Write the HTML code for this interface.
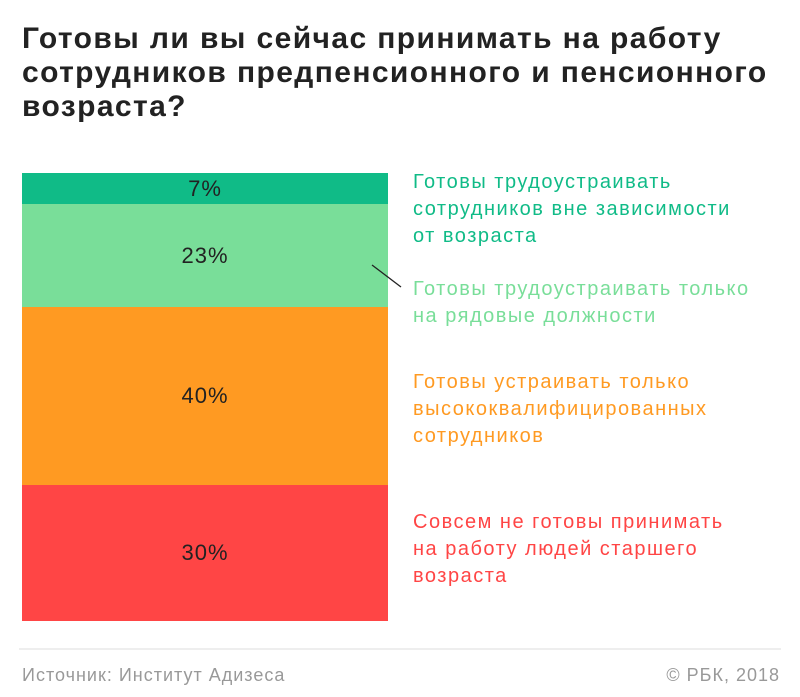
<!DOCTYPE html>
<html><head><meta charset="utf-8"><style>
body{margin:0;width:800px;height:697px;background:#fff;font-family:"Liberation Sans",sans-serif;position:relative;overflow:hidden}
.t{position:absolute;left:22px;top:22px;font-size:30px;font-weight:bold;line-height:34px;color:#222;letter-spacing:1.4px}
.seg{position:absolute;left:22px;width:366px;display:flex;align-items:center;justify-content:center;font-size:22px;letter-spacing:1px;color:#222}
.lg{position:absolute;left:413px;font-size:20px;line-height:27px;letter-spacing:1.5px;white-space:nowrap}
.f{position:absolute;top:665px;font-size:18px;color:#999;letter-spacing:1px}
</style></head><body>
<div class="t">Готовы ли вы сейчас принимать на работу<br>сотрудников предпенсионного и пенсионного<br>возраста?</div>
<div class="seg" style="top:173px;height:31px;background:#10bb87">7%</div>
<div class="seg" style="top:204px;height:103px;background:#79de99">23%</div>
<div class="seg" style="top:307px;height:178px;background:#ff9a22">40%</div>
<div class="seg" style="top:485px;height:136px;background:#ff4545">30%</div>
<svg style="position:absolute;left:0;top:0" width="800" height="697"><line x1="372" y1="265" x2="401" y2="287" stroke="#222" stroke-width="1.3"/><line x1="19" y1="649" x2="781" y2="649" stroke="#ddd" stroke-width="1"/></svg>
<div class="lg" style="top:169px;color:#10bb87">Готовы трудоустраивать<br>сотрудников вне зависимости<br>от возраста</div>
<div class="lg" style="top:276px;color:#79de99">Готовы трудоустраивать только<br>на рядовые должности</div>
<div class="lg" style="top:369px;color:#ff9a22">Готовы устраивать только<br>высококвалифицированных<br>сотрудников</div>
<div class="lg" style="top:509px;color:#ff4545">Совсем не готовы принимать<br>на работу людей старшего<br>возраста</div>
<div class="f" style="left:22px">Источник: Институт Адизеса</div>
<div class="f" style="right:20px">© РБК, 2018</div>
</body></html>
